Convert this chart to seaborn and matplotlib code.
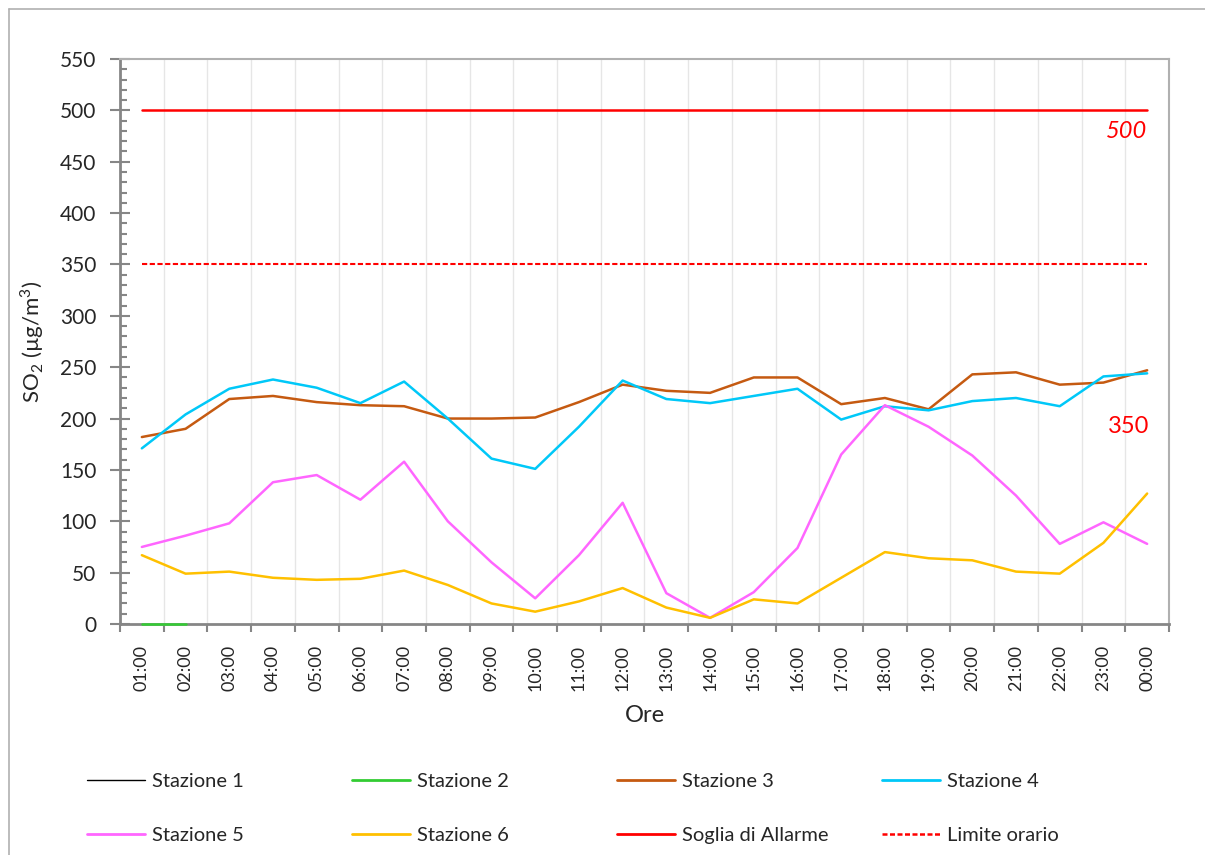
import numpy as np
import pandas as pd
import matplotlib
matplotlib.use("Agg")
import matplotlib.pyplot as plt
from matplotlib.lines import Line2D
from matplotlib.ticker import MultipleLocator, FixedLocator
import seaborn as sns

# Data (SO2, µg/m3) - hourly values
ORE = ['01:00', '02:00', '03:00', '04:00', '05:00', '06:00', '07:00', '08:00',
       '09:00', '10:00', '11:00', '12:00', '13:00', '14:00', '15:00', '16:00',
       '17:00', '18:00', '19:00', '20:00', '21:00', '22:00', '23:00', '00:00']
stazione_1 = [np.nan] * 24
stazione_2 = [0, 0] + [np.nan] * 22
stazione_3 = [182, 190, 219, 222, 216, 213, 212, 200, 200, 201, 216, 233,
              227, 225, 240, 240, 214, 220, 209, 243, 245, 233, 235, 247]
stazione_4 = [171, 204, 229, 238, 230, 215, 236, 200, 161, 151, 192, 237,
              219, 215, 222, 229, 199, 212, 208, 217, 220, 212, 241, 244]
stazione_5 = [75, 86, 98, 138, 145, 121, 158, 100, 60, 25, 67, 118,
              30, 6, 31, 74, 165, 213, 192, 164, 125, 78, 99, 78]
stazione_6 = [67, 49, 51, 45, 43, 44, 52, 38, 20, 12, 22, 35,
              16, 6, 24, 20, 45, 70, 64, 62, 51, 49, 79, 127]
soglia_allarme = [500] * 24
limite_orario = [350] * 24

COLORS = {
    'Stazione 1': '#000000',
    'Stazione 2': '#33CC33',
    'Stazione 3': '#C55A11',
    'Stazione 4': '#00C8F8',
    'Stazione 5': '#FF66FF',
    'Stazione 6': '#FFC000',
    'Soglia di Allarme': '#FF0000',
    'Limite orario': '#FF0000',
}

sns.set_style("white")
plt.rcParams['font.family'] = ['Lato', 'DejaVu Sans']
plt.rcParams['mathtext.fontset'] = 'custom'
plt.rcParams['mathtext.rm'] = 'Lato'

fig = plt.figure(figsize=(12.05, 8.55), dpi=100)
ax = fig.add_axes([120 / 1205, 1 - 624 / 855, (1169 - 120) / 1205, (624 - 59) / 855])

x = np.arange(len(ORE))
series = [
    ('Stazione 2', stazione_2),
    ('Stazione 3', stazione_3),
    ('Stazione 4', stazione_4),
    ('Stazione 5', stazione_5),
    ('Stazione 6', stazione_6),
    ('Soglia di Allarme', soglia_allarme),
]
for name, vals in series:
    sns.lineplot(x=x, y=vals, ax=ax, color=COLORS[name], linewidth=1.8, legend=False,
                 zorder=3, clip_on=False)
sns.lineplot(x=x, y=limite_orario, ax=ax, color=COLORS['Limite orario'], linewidth=1.5,
             legend=False, linestyle=(0, (2.5, 1.2)), zorder=3)

# data labels
ax.text(x[-1], 479, '500', color='#FF0000', fontsize=17, style='italic',
        ha='right', va='center')
ax.text(x[-1] + 0.05, 192, '350', color='#FF0000', fontsize=17, ha='right', va='center')

# axes
ax.set_xlim(-0.5, len(ORE) - 0.5)
ax.set_ylim(0, 550)
ax.yaxis.set_major_locator(MultipleLocator(50))
ax.yaxis.set_minor_locator(MultipleLocator(10))
ax.set_xticks(x)
ax.set_xticklabels(ORE, rotation=90)
ax.xaxis.set_minor_locator(FixedLocator(np.arange(-0.5, len(ORE), 1.0)))
ax.tick_params(which='both', left=True, bottom=True)
ax.tick_params(axis='x', which='major', length=0, pad=15, labelsize=13)
ax.tick_params(axis='x', which='minor', length=6, width=1.5, color='#868686', direction='out')
ax.tick_params(axis='y', which='major', length=14, width=1.5, color='#868686',
               direction='inout', labelsize=15, pad=10)
ax.tick_params(axis='y', which='minor', length=5, width=1.5, color='#868686', direction='in')
ax.grid(False)
ax.grid(True, axis='x', which='minor', color='#E6E6E6', linewidth=1)

for side in ['left', 'bottom']:
    ax.spines[side].set_color('#868686')
    ax.spines[side].set_linewidth(2)
for side in ['top', 'right']:
    ax.spines[side].set_color('#B0B0B0')
    ax.spines[side].set_linewidth(1.5)

ax.set_ylabel(r'SO$_2$ (µg/m$^3$)', fontsize=16, labelpad=10)
ax.set_xlabel('Ore', fontsize=17, labelpad=10)

# legend: four columns, two rows
names = list(COLORS.keys())
handles = {}
for name in names:
    if name == 'Stazione 1':
        handles[name] = Line2D([], [], color=COLORS[name], linewidth=1)
    elif name == 'Limite orario':
        handles[name] = Line2D([], [], color=COLORS[name], linewidth=1.8, linestyle=(0, (2, 1)))
    else:
        handles[name] = Line2D([], [], color=COLORS[name], linewidth=2)

col_x = [87, 352, 617, 882]
for i, cx in enumerate(col_x):
    col_names = [names[i], names[i + 4]]
    leg = fig.legend([handles[n] for n in col_names], col_names, loc='upper left',
                     bbox_to_anchor=(cx / 1205, 1 - 773 / 855), frameon=False,
                     fontsize=14.5, handlelength=2.9, handletextpad=0.35,
                     labelspacing=1.85, borderpad=0, borderaxespad=0)

# outer chart border (left and top visible)
fig.add_artist(Line2D([9 / 1205, 9 / 1205], [0, 1 - 9 / 855], transform=fig.transFigure,
                      color='#B0B0B0', linewidth=1.2))
fig.add_artist(Line2D([9 / 1205, 1], [1 - 9 / 855, 1 - 9 / 855], transform=fig.transFigure,
                      color='#B0B0B0', linewidth=1.2))

plt.savefig('out.png', dpi=100)
plt.close()
